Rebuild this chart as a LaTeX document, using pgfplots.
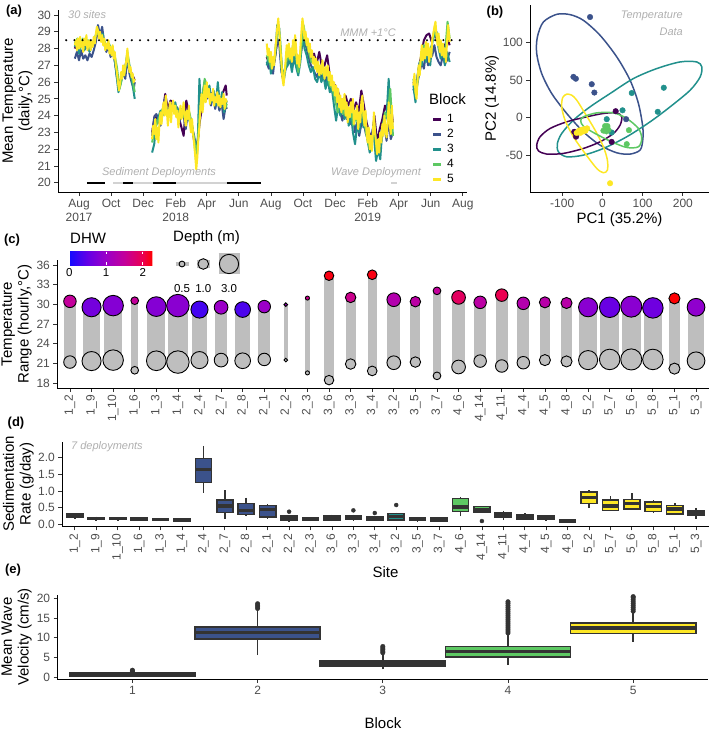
\documentclass[border=0pt]{standalone}
\usepackage{fontspec}
\setmainfont{Liberation Sans}
\usepackage{pgfplots}
\usepackage{pgfplotstable}
\pgfplotsset{compat=1.18}
\usepgfplotslibrary{statistics}

\definecolor{vA}{RGB}{68,1,84}
\definecolor{vB}{RGB}{59,82,139}
\definecolor{vC}{RGB}{33,144,140}
\definecolor{vD}{RGB}{93,200,99}
\definecolor{vE}{RGB}{253,231,37}
\definecolor{tk}{RGB}{77,77,77}
\definecolor{ann}{RGB}{175,175,175}
\definecolor{bxc}{RGB}{51,51,51}
\definecolor{gbar}{RGB}{190,190,190}
\definecolor{dep}{RGB}{210,210,210}

\pgfplotsset{
  gg/.style={scale only axis, anchor=south west, axis lines=left,
    axis line style={-, line width=0.9pt, draw=black},
    tick style={line width=0.8pt, draw=bxc}, major tick length=3.6pt, tick align=outside,
    tick label style={font=\fontsize{12}{14}\selectfont, text=tk},
    /pgf/number format/assume math mode=true,
    enlargelimits=false, minor tick num=0},
  colormap={dhw}{rgb255(0pt)=(20,10,255); rgb255(50pt)=(100,0,230); rgb255(100pt)=(155,0,200);
    rgb255(150pt)=(195,0,155); rgb255(200pt)=(235,0,80); rgb255(226pt)=(255,0,0)}
}
\newcommand{\lab}{\fontsize{15}{16.7}\selectfont}
\newcommand{\an}{\fontsize{11}{12}\selectfont\itshape\color{ann}}
\newcommand{\bxp}[7]{\addplot[boxplot prepared={draw position=#1,lower whisker=#2,lower quartile=#3,median=#4,upper quartile=#5,upper whisker=#6}, draw=bxc, fill=#7, line width=1.6pt] coordinates {};}
\newcommand{\bxq}[8]{\addplot[boxplot prepared={draw position=#1,lower whisker=#2,lower quartile=#3,median=#4,upper quartile=#5,upper whisker=#6}, draw=bxc, fill=#7, line width=1.6pt, mark=*, mark size=2pt, mark options={line width=0.4pt, fill=bxc, draw=bxc}] coordinates {(#1,#8)};}

\begin{document}
% daily mean temperature, x = days since 1 Aug 2017
\pgfplotstableread{
x y
-8 28.2
-6 28.5
-4 27.9
-2 28.6
0 28.0
2 28.7
4 28.1
6 28.4
8 27.8
10 28.6
12 28.2
14 28.8
16 27.9
18 28.3
20 28.5
22 27.9
24 28.4
26 28.1
28 28.7
30 28.3
32 28.9
34 29.3
36 29.1
38 28.6
40 29.0
42 28.4
44 28.8
46 28.2
48 28.6
50 27.9
52 28.3
54 28.0
56 28.5
58 27.7
60 28.1
62 27.6
64 28.2
66 27.4
68 27.8
70 27.0
72 26.6
74 26.0
76 25.5
78 25.9
80 26.6
82 26.2
84 27.0
86 26.4
88 26.9
90 27.3
92 28.0
94 27.2
96 26.6
98 26.9
100 26.3
102 26.5
104 26.0
106 26.2
nan nan
139 22.6
141 23.4
143 22.9
145 23.8
147 22.6
149 23.3
151 22.4
153 23.6
155 24.2
157 23.5
159 24.4
161 24.8
163 24.0
165 25.2
167 24.3
169 23.4
171 24.2
173 24.8
175 23.6
177 24.5
179 24.9
181 24.1
183 24.6
185 23.9
187 24.3
189 23.3
191 24.0
193 24.6
195 23.8
197 24.2
199 24.8
201 23.9
203 23.4
205 24.3
207 23.8
209 24.6
211 23.5
213 23.0
215 23.8
217 22.9
219 22.3
221 21.6
223 20.8
225 21.5
227 22.6
229 23.4
231 24.6
233 25.3
235 24.2
237 25.0
239 25.8
241 24.8
243 26.0
245 25.1
247 25.6
249 24.7
251 25.3
253 24.9
255 25.6
257 24.6
259 25.1
261 24.8
263 25.4
265 24.6
267 25.2
269 24.5
271 25.0
273 24.7
275 25.3
277 24.4
279 25.0
281 24.8
nan nan
357 28.3
359 27.6
361 28.0
363 27.2
365 27.8
367 26.8
369 27.5
371 27.0
373 27.9
375 28.5
377 29.2
379 29.8
381 29.0
383 28.0
385 27.1
387 26.2
389 25.8
391 26.5
393 27.3
395 28.2
397 27.5
399 28.3
401 27.4
403 28.0
405 27.2
407 28.5
409 27.6
411 28.8
413 28.0
415 27.1
417 27.6
419 26.9
421 28.0
423 29.0
425 29.8
427 29.3
429 28.5
431 29.0
433 28.2
435 28.6
437 27.8
439 28.3
441 27.5
443 27.9
445 27.1
447 27.5
449 26.8
451 27.4
453 26.6
455 27.2
457 26.4
459 27.0
461 26.5
463 27.3
465 26.7
467 26.2
469 26.9
471 26.4
473 27.0
475 26.1
477 26.6
479 25.8
481 26.4
483 25.5
485 26.0
487 25.2
489 25.8
491 24.8
493 25.6
495 24.5
497 25.2
499 24.2
501 25.0
503 24.4
505 25.3
507 24.0
509 24.8
511 23.6
513 24.5
515 23.9
517 24.8
519 24.2
521 25.0
523 23.5
525 24.3
527 23.8
529 24.6
531 23.2
533 24.2
535 23.6
537 24.8
539 25.2
541 24.0
543 23.4
545 24.3
547 23.0
549 22.4
551 23.3
553 22.0
555 22.8
557 21.9
559 23.0
561 24.2
563 23.0
565 22.4
567 21.7
569 22.6
571 21.8
573 23.0
575 22.4
577 23.5
579 22.8
581 24.0
583 23.2
585 22.7
587 23.6
589 24.8
591 23.5
593 22.9
595 24.6
597 23.2
nan nan
636 25.8
638 26.5
640 25.4
642 25.0
644 26.2
646 27.0
648 26.4
650 27.5
652 28.2
654 27.3
656 28.0
658 27.4
660 28.4
662 27.6
664 28.3
666 27.2
668 28.0
670 27.5
672 28.6
674 28.9
676 29.3
678 29.6
680 28.8
682 28.2
684 28.9
686 27.8
688 28.5
690 27.6
692 28.3
694 27.5
696 28.0
698 27.2
700 28.4
702 29.4
704 28.8
705 28.4
}\tE
\pgfplotstableread{
x y
-8 27.4
-4 27.8
0 27.3
4 27.9
8 27.4
12 27.6
16 27.3
20 27.7
24 27.5
28 27.9
32 28.4
36 29.4
40 28.8
44 29.3
48 28.3
52 27.8
56 28.2
60 27.5
64 27.8
68 27.3
72 26.3
76 25.6
80 26.1
84 26.6
88 26.2
92 27.5
96 26.5
100 26.0
104 25.6
106 26.0
nan nan
139 22.8
143 23.9
147 24.1
151 23.8
155 23.4
159 24.2
163 25.0
167 24.5
171 24.3
175 24.7
179 24.6
183 24.3
187 24.5
191 23.6
195 24.4
199 24.0
203 23.2
207 24.2
211 23.8
215 23.3
219 22.8
223 22.0
227 22.8
231 24.5
235 25.2
239 26.0
243 25.0
247 25.4
251 24.6
255 25.2
259 24.4
263 25.0
267 24.3
271 24.8
275 23.8
279 24.6
281 24.4
nan nan
357 27.2
361 26.8
365 27.4
369 26.5
373 27.6
377 28.6
381 28.2
385 26.6
389 26.2
393 27.0
397 27.4
401 27.6
405 27.0
409 27.3
413 27.6
417 27.2
421 27.5
425 29.0
429 28.4
433 28.0
437 27.5
441 27.0
445 26.8
449 26.5
453 26.3
457 26.8
461 26.2
465 26.5
469 26.0
473 26.4
477 25.8
481 25.5
485 25.2
489 24.8
493 24.6
497 24.2
501 23.7
505 24.4
509 23.8
513 24.2
517 23.5
521 24.0
525 23.0
529 23.6
533 22.8
537 23.5
541 23.8
545 23.0
549 22.6
553 22.3
557 22.9
561 23.6
565 22.3
569 21.8
573 22.2
577 22.8
581 23.4
585 22.5
589 23.8
593 22.6
597 23.0
nan nan
636 25.6
640 25.2
644 26.0
648 26.6
652 27.2
656 26.8
660 27.8
664 27.0
668 27.4
672 27.6
676 28.2
680 27.5
684 27.2
688 27.0
692 27.6
696 27.1
700 27.3
705 27.8
}\tB
\pgfplotstableread{
x y
-8 28.1
-4 28.5
0 27.7
5 28.4
10 27.9
15 28.3
20 27.8
25 28.2
30 28.5
35 29.2
40 28.6
45 28.9
50 28.0
55 28.3
60 27.7
65 27.9
70 26.8
75 25.4
80 26.0
85 26.8
90 27.0
95 27.0
100 26.2
106 25.0
nan nan
139 21.8
143 22.3
147 23.6
151 23.9
155 24.3
159 24.0
163 24.6
167 24.2
171 24.4
175 24.6
179 24.5
183 24.8
187 24.2
191 24.4
195 24.3
199 24.5
203 23.9
207 24.0
211 23.6
215 23.4
219 22.6
223 21.2
226 22.6
229 26.2
232 24.6
236 25.4
240 26.1
244 25.2
248 25.8
252 24.8
256 25.5
260 24.6
264 26.0
268 24.5
272 25.4
276 24.2
281 24.9
nan nan
357 27.0
361 27.6
365 26.5
369 27.2
373 27.5
377 29.4
381 29.2
385 26.8
389 26.0
393 26.8
397 27.0
401 27.4
405 26.6
409 27.5
413 26.9
417 26.4
421 27.2
425 28.8
429 28.0
433 27.6
437 27.0
441 26.6
445 26.9
449 26.2
453 26.0
457 26.6
461 26.0
465 26.4
469 25.6
473 26.2
477 25.4
481 25.6
485 24.6
489 23.7
493 24.6
497 24.0
501 24.8
505 23.8
509 24.5
513 23.4
517 24.2
521 23.0
525 22.3
529 23.4
533 23.0
537 24.2
541 23.3
545 23.6
549 22.5
553 21.8
557 22.6
561 22.8
565 21.3
569 22.0
573 21.4
577 23.2
581 23.6
585 24.0
589 26.2
593 23.5
597 22.8
nan nan
636 25.8
640 24.8
644 26.4
648 27.2
652 27.0
656 28.0
660 27.2
664 28.0
668 27.0
672 28.4
676 28.8
680 29.0
684 28.0
688 27.4
692 27.8
696 27.0
700 27.8
705 27.2
}\tC
\pgfplotstableread{
x y
-8 28.0
-3 28.4
2 28.2
7 28.5
12 28.0
17 28.4
22 28.1
27 28.3
32 28.6
37 29.0
42 28.7
47 28.4
52 28.2
57 28.0
62 27.8
67 27.5
72 26.5
77 25.8
82 26.5
87 26.7
92 27.6
97 26.7
102 26.4
106 26.1
nan nan
139 23.0
144 24.0
149 23.8
154 23.5
159 24.2
164 25.3
169 24.4
174 24.9
179 24.8
184 24.5
189 24.0
194 23.4
199 22.8
204 24.9
209 24.2
214 23.5
219 22.5
224 21.8
229 23.5
234 24.5
239 25.8
244 25.5
249 25.0
254 25.4
259 24.8
264 25.6
269 24.6
274 25.4
279 25.8
281 25.2
nan nan
357 27.5
362 27.1
367 26.7
372 27.3
377 28.4
382 28.3
387 26.3
392 26.7
397 27.5
402 27.4
407 27.6
412 27.8
417 27.2
422 27.7
427 28.9
432 28.2
437 27.9
442 27.4
447 27.7
452 27.1
457 27.8
462 26.9
467 27.0
472 27.6
477 26.4
482 26.0
487 25.8
492 25.5
497 25.0
502 24.8
507 25.2
512 24.6
517 25.0
522 24.3
527 24.8
532 24.2
537 25.5
542 24.6
547 23.6
552 23.0
557 22.6
562 24.0
567 22.4
572 23.2
577 23.8
582 24.6
587 24.2
592 25.0
597 23.6
nan nan
636 26.0
641 25.6
646 26.8
651 27.6
656 28.5
661 28.8
666 28.9
671 28.4
676 29.0
681 28.5
686 28.3
691 28.0
696 28.2
701 28.6
705 28.2
}\tA
\pgfplotstableread{
x y
-8 28.3
-3 28.6
2 28.0
7 28.6
12 28.2
17 28.5
22 28.0
27 28.4
32 28.8
37 29.0
42 28.5
47 28.6
52 28.1
57 28.3
62 27.9
67 27.7
72 26.9
77 25.6
82 26.3
87 26.6
92 27.8
97 26.8
102 26.1
106 25.4
nan nan
139 22.4
144 23.2
149 23.6
154 24.0
159 24.4
164 24.6
169 24.0
174 24.5
179 24.3
184 24.6
189 23.8
194 24.2
199 24.0
204 23.7
209 24.3
214 23.6
219 22.6
224 21.6
229 24.0
234 25.0
239 26.2
244 25.3
249 25.1
254 25.3
259 24.9
264 25.3
269 24.8
274 25.1
279 24.5
281 24.7
nan nan
357 27.6
362 27.2
367 26.8
372 27.4
377 29.0
382 28.8
387 26.4
392 26.8
397 27.6
402 27.3
407 28.2
412 27.7
417 26.6
422 27.8
427 29.4
432 28.4
437 27.8
442 27.2
447 27.4
452 26.8
457 26.6
462 26.5
467 26.4
472 26.6
477 25.8
482 25.6
487 25.0
492 24.2
497 24.8
502 24.1
507 24.6
512 23.9
517 24.5
522 23.4
527 24.0
532 23.3
537 24.6
542 23.8
547 22.8
552 22.2
557 22.4
562 23.4
567 21.8
572 22.5
577 23.3
582 24.2
587 23.9
592 25.6
597 22.8
nan nan
636 26.2
641 25.2
646 26.6
651 27.4
656 28.2
661 28.0
666 27.8
671 28.2
676 29.2
681 28.6
686 27.9
691 28.2
696 27.6
701 29.6
705 28.6
}\tD
% site temperature range: max, min, circle radius (pt), DHW
\pgfplotstableread{
x hi lo r dhw
0 30.45 21.2 6.7 1.5
1 29.55 21.35 10.0 0.65
2 29.8 21.5 10.7 0.8
3 30.55 19.95 4.3 1.5
4 29.65 21.4 10.3 0.8
5 29.8 21.2 11.7 0.85
6 29.2 21.5 9.0 0.3
7 29.55 21.5 7.3 1.0
8 29.2 21.4 8.3 0.35
9 29.65 21.6 6.7 1.0
10 29.95 21.5 2.3 1.05
11 30.95 19.55 2.5 1.6
12 34.35 18.45 5.2 2.2
13 31.05 20.9 5.7 1.6
14 34.5 19.85 5.3 2.2
15 30.7 21.1 7.3 1.3
16 30.4 21.2 5.7 1.4
17 32.05 19.1 4.3 1.5
18 31.05 20.45 7.3 1.9
19 30.3 21.35 6.7 1.4
20 31.4 20.6 6.7 2.0
21 30.15 21.1 6.7 1.3
22 30.3 21.5 6.0 1.35
23 30.2 21.3 6.0 1.35
24 29.55 21.5 10.0 0.85
25 29.55 21.6 10.7 0.55
26 29.65 21.6 11.0 0.85
27 29.45 21.6 10.7 0.6
28 30.9 20.2 6.0 2.25
29 29.55 21.4 9.3 0.9
}\tS

\begin{tikzpicture}
\path[use as bounding box] (0,0) rectangle (709pt,734pt);

% ---------------- (a)
\begin{axis}[gg, at={(58pt,542pt)}, width=409pt, height=182pt,
  xmin=-40, xmax=738, ymin=19.45, ymax=30.3, ytick={20,...,30},
  xtick={0,61,122,184,243,304,365,426,487,549,608,669,730},
  xticklabels={{Aug\\2017},Oct,Dec,{Feb\\2018},Apr,Jun,Aug,Oct,Dec,{Feb\\2019},Apr,Jun,Aug},
  xticklabel style={align=center},
  unbounded coords=jump,
  legend image code/.code={\draw[line width=2.6pt] (0pt,0pt) -- (8pt,0pt);},
  legend cell align=left,
  legend style={at={(axis cs:671,24.07)}, anchor=north west, draw=none, fill=none,
    inner sep=0pt, row sep=5.1pt, column sep=4.6pt,
    font=\fontsize{12}{12}\selectfont, nodes={inner sep=0pt}}]
\addplot[dep, line width=2.4pt, forget plot] coordinates {(65,20) (281,20)};
\addplot[dep, line width=2.4pt, forget plot] coordinates {(594,20) (605,20)};
\addplot[black, line width=2.4pt, forget plot] coordinates {(15,20) (49,20)};
\addplot[black, line width=2.4pt, forget plot] coordinates {(84,20) (103,20)};
\addplot[black, line width=2.4pt, forget plot] coordinates {(141,20) (184,20)};
\addplot[black, line width=2.4pt, forget plot] coordinates {(281,20) (346,20)};
\addplot[vA, line width=2pt, line join=round] table {\tA};
\addplot[vB, line width=2pt, line join=round] table {\tB};
\addplot[vC, line width=2pt, line join=round] table {\tC};
\addplot[vD, line width=2pt, line join=round] table {\tD};
\addplot[vE, line width=2pt, line join=round] table {\tE};
\addplot[black, line width=2.3pt, line cap=round, dash pattern=on 0pt off 8.2pt, forget plot] coordinates {(-40,28.5) (738,28.5)};
\legend{1,2,3,4,5}
\end{axis}

% ---------------- (b)
\begin{axis}[gg, at={(530pt,542pt)}, width=179pt, height=187pt,
  xmin=-180, xmax=265, ymin=-98.6, ymax=150,
  xtick={-100,0,100,200}, ytick={-50,0,50,100}]
\addplot[vB, line width=1.5pt, smooth cycle] coordinates {(-113.6,137.6) (-146.8,127.4) (-161.7,107.5) (-163.3,85.4) (-150.9,58.8) (-126,32.3) (-88.7,5.8) (-47.3,-18.6) (-5.8,-36.3) (35.7,-46.5) (68.8,-48.2) (93.7,-42.9) (100.3,-29.6) (100.3,-11.9) (89.6,19) (68.8,50) (35.7,81) (-5.8,109.7) (-47.3,129.6) (-80.4,137.2)};
\addplot[vC, line width=1.5pt, smooth cycle] coordinates {(-109.5,-45.1) (-111.9,-34.1) (-101.2,-20.8) (-72.1,-3.1) (-30.7,14.6) (19.1,32.3) (77.1,52.2) (135.2,65.5) (193.2,74.3) (234.7,74.3) (247.1,67.7) (243,54.4) (218.1,36.7) (168.3,14.6) (118.6,-5.3) (60.5,-25.2) (2.5,-40.7) (-47.3,-49.6) (-88.7,-51.8)};
\addplot[vA, line width=1.5pt, smooth cycle] coordinates {(-163.3,-36.3) (-155,-25.2) (-130.2,-14.2) (-88.7,-5.3) (-39,1.3) (2.5,5.8) (35.7,6.6) (48.1,1.3) (43.9,-9.7) (27.4,-20.8) (-5.8,-31.9) (-47.3,-40.7) (-97,-47.3) (-138.5,-48.2) (-159.2,-43.8)};
\addplot[vE, line width=1.5pt, smooth cycle] coordinates {(-88.7,31.4) (-98.7,27) (-101.2,14.6) (-92.9,-3.1) (-72.1,-25.2) (-43.1,-47.3) (-14.1,-67.3) (2.5,-73) (12.4,-69.5) (12.4,-56.2) (2.5,-38.5) (-18.2,-16.4) (-43.1,5.8) (-63.8,23.5) (-76.3,30.1)};
\addplot[vD, line width=1.5pt, smooth cycle] coordinates {(-47.3,1.3) (-14.1,6.6) (27.4,6.6) (60.5,-0.9) (89.6,-14.2) (97.8,-27.4) (89.6,-38.5) (60.5,-39.4) (23.2,-31.9) (-18.2,-20.8) (-47.3,-11.1) (-53.9,-4)};
\addplot[only marks, mark=*, mark size=2.8pt, vA] coordinates {(33,8.8) (-70,-18.6) (-65.5,-25) (23,-32) (-66,-21)};
\addplot[only marks, mark=*, mark size=2.8pt, vB] coordinates {(-30.7,134) (-72,54.4) (-66,52) (-26.5,44.7) (-20,33.6) (59,-1.8)};
\addplot[only marks, mark=*, mark size=2.8pt, vC] coordinates {(152.6,40) (73,33) (50,10) (137.6,8) (10.8,-1.8) (23,-19.5)};
\addplot[only marks, mark=*, mark size=2.8pt, vD] coordinates {(6.6,-11) (12.4,-11) (2.5,-17) (15,-16) (9,-14) (66,-16.4) (60.5,-35) (10,-18)};
\addplot[only marks, mark=*, mark size=2.8pt, vE] coordinates {(-64,-20) (-58,-17) (-52,-16) (-45,-15) (-38,-14) (-55,-20) (-48,-18) (-42,-17) (19,-87)};
\end{axis}

% ---------------- (c)
\begin{axis}[gg, at={(57pt,346pt)}, width=652pt, height=128pt, clip=false,
  xmin=-0.6, xmax=29.6, ymin=17.25, ymax=36.75, ytick={18,21,...,36},
  xtick={0,...,29},
  xticklabels={1\_2,1\_9,1\_10,1\_6,1\_3,1\_4,2\_4,2\_7,2\_8,2\_1,2\_2,2\_3,3\_6,3\_3,3\_4,3\_2,3\_5,3\_7,4\_6,4\_14,4\_11,4\_4,4\_5,4\_8,5\_2,5\_7,5\_6,5\_8,5\_1,5\_3},
  xticklabel style={rotate=90, anchor=east},
  colormap name=dhw, point meta min=0, point meta max=2.26,
  colorbar horizontal,
  colorbar style={at={(0.01887,0.9609)}, anchor=south west, scale only axis,
    width=83pt, height=13.3pt, xtick={0,1,2}, xticklabels={0,1,2}, ytick=\empty,
    xticklabel style={rotate=0, anchor=north, text=black, font=\fontsize{11.5}{12}\selectfont},
    major tick length=2.6pt, tick align=inside, xtick pos=both, xticklabel pos=lower,
    tick style={draw=white, line width=0.8pt}, axis line style={draw=none}, xlabel={}, ylabel={}}]
\addplot[gbar, line width=11.7pt] coordinates {(0,21.2) (0,30.45)};
\addplot[gbar, line width=17.5pt] coordinates {(1,21.35) (1,29.55)};
\addplot[gbar, line width=18.7pt] coordinates {(2,21.5) (2,29.8)};
\addplot[gbar, line width=7.5pt] coordinates {(3,19.95) (3,30.55)};
\addplot[gbar, line width=18pt] coordinates {(4,21.4) (4,29.65)};
\addplot[gbar, line width=20.5pt] coordinates {(5,21.2) (5,29.8)};
\addplot[gbar, line width=15.7pt] coordinates {(6,21.5) (6,29.2)};
\addplot[gbar, line width=12.8pt] coordinates {(7,21.5) (7,29.55)};
\addplot[gbar, line width=14.5pt] coordinates {(8,21.4) (8,29.2)};
\addplot[gbar, line width=11.7pt] coordinates {(9,21.6) (9,29.65)};
\addplot[gbar, line width=4pt] coordinates {(10,21.5) (10,29.95)};
\addplot[gbar, line width=4.4pt] coordinates {(11,19.55) (11,30.95)};
\addplot[gbar, line width=9.1pt] coordinates {(12,18.45) (12,34.35)};
\addplot[gbar, line width=10pt] coordinates {(13,20.9) (13,31.05)};
\addplot[gbar, line width=9.3pt] coordinates {(14,19.85) (14,34.5)};
\addplot[gbar, line width=12.8pt] coordinates {(15,21.1) (15,30.7)};
\addplot[gbar, line width=10pt] coordinates {(16,21.2) (16,30.4)};
\addplot[gbar, line width=7.5pt] coordinates {(17,19.1) (17,32.05)};
\addplot[gbar, line width=12.8pt] coordinates {(18,20.45) (18,31.05)};
\addplot[gbar, line width=11.7pt] coordinates {(19,21.35) (19,30.3)};
\addplot[gbar, line width=11.7pt] coordinates {(20,20.6) (20,31.4)};
\addplot[gbar, line width=11.7pt] coordinates {(21,21.1) (21,30.15)};
\addplot[gbar, line width=10.5pt] coordinates {(22,21.5) (22,30.3)};
\addplot[gbar, line width=10.5pt] coordinates {(23,21.3) (23,30.2)};
\addplot[gbar, line width=17.5pt] coordinates {(24,21.5) (24,29.55)};
\addplot[gbar, line width=18.7pt] coordinates {(25,21.6) (25,29.55)};
\addplot[gbar, line width=19.3pt] coordinates {(26,21.6) (26,29.65)};
\addplot[gbar, line width=18.7pt] coordinates {(27,21.6) (27,29.45)};
\addplot[gbar, line width=10.5pt] coordinates {(28,20.2) (28,30.9)};
\addplot[gbar, line width=16.3pt] coordinates {(29,21.4) (29,29.55)};
\addplot[scatter, only marks, mark=*, point meta=\thisrow{dhw},
  scatter/use mapped color={draw=black, fill=gbar},
  visualization depends on={\thisrow{r}-0.45 \as \rad},
  scatter/@pre marker code/.append style={/tikz/mark size=\rad},
  mark options={line width=0.9pt}]
  table[x=x, y=lo] {\tS};
\addplot[scatter, only marks, mark=*, point meta=\thisrow{dhw},
  scatter/use mapped color={draw=black, fill=mapped color},
  visualization depends on={\thisrow{r}-0.45 \as \rad},
  scatter/@pre marker code/.append style={/tikz/mark size=\rad},
  mark options={line width=0.9pt}]
  table[x=x, y=hi] {\tS};
\end{axis}

% size legend for depth
\begin{axis}[scale only axis, anchor=south west, at={(160pt,460pt)}, width=80pt, height=20pt,
  xmin=160, xmax=240, ymin=-10, ymax=10, clip=false,
  axis line style={draw=none}, ytick=\empty, major tick length=0pt,
  xtick={182,203.3,229}, xticklabels={0.5,1.0,3.0},
  xticklabel style={font=\fontsize{11.5}{12}\selectfont, text=black, yshift=-6.5pt}]
\addplot[gbar, line width=4pt] coordinates {(175.5,0) (188.5,0)};
\addplot[gbar, line width=8pt] coordinates {(196.8,0) (209.8,0)};
\addplot[gbar, line width=21pt] coordinates {(218.5,0) (239.5,0)};
\addplot[only marks, mark=*, mark size=2.9pt, mark options={fill=gbar, draw=black, line width=0.9pt}] coordinates {(182,0)};
\addplot[only marks, mark=*, mark size=5.3pt, mark options={fill=gbar, draw=black, line width=0.9pt}] coordinates {(203.3,0)};
\addplot[only marks, mark=*, mark size=9.6pt, mark options={fill=gbar, draw=black, line width=0.9pt}] coordinates {(229,0)};
\end{axis}

% ---------------- (d)
\begin{axis}[gg, at={(62pt,207.3pt)}, width=647pt, height=84.7pt, clip=false,
  xmin=-0.6, xmax=29.6, ymin=-0.07, ymax=2.47, ytick={0,0.5,...,2},
  yticklabel style={/pgf/number format/.cd, fixed, fixed zerofill, precision=1},
  xtick={0,...,29},
  xticklabels={1\_2,1\_9,1\_10,1\_6,1\_3,1\_4,2\_4,2\_7,2\_8,2\_1,2\_2,2\_3,3\_6,3\_3,3\_4,3\_2,3\_5,3\_7,4\_6,4\_14,4\_11,4\_4,4\_5,4\_8,5\_2,5\_7,5\_6,5\_8,5\_1,5\_3},
  xticklabel style={rotate=90, anchor=east},
  boxplot/draw direction=y,
  boxplot/box extend=0.75, boxplot/whisker extend=0,
  boxplot/every median/.style={line width=3.2pt}]
\bxp{0}{0.18}{0.20}{0.25}{0.31}{0.34}{vA}
\bxp{1}{0.12}{0.14}{0.17}{0.21}{0.23}{vA}
\bxp{2}{0.12}{0.14}{0.17}{0.21}{0.22}{vA}
\bxp{3}{0.11}{0.12}{0.15}{0.19}{0.20}{vA}
\bxp{4}{0.10}{0.12}{0.15}{0.18}{0.19}{vA}
\bxp{5}{0.09}{0.10}{0.13}{0.17}{0.18}{vA}
\bxp{6}{0.95}{1.26}{1.65}{1.98}{2.35}{vB}
\bxp{7}{0.17}{0.36}{0.55}{0.73}{1.03}{vB}
\bxp{8}{0.24}{0.30}{0.42}{0.62}{0.80}{vB}
\bxp{9}{0.17}{0.22}{0.45}{0.57}{0.60}{vB}
\bxq{10}{0.08}{0.12}{0.18}{0.25}{0.28}{vB}{0.38}
\bxp{11}{0.10}{0.12}{0.15}{0.20}{0.22}{vB}
\bxp{12}{0.10}{0.13}{0.19}{0.27}{0.29}{vC}
\bxq{13}{0.12}{0.14}{0.20}{0.27}{0.29}{vC}{0.42}
\bxq{14}{0.11}{0.13}{0.17}{0.24}{0.26}{vC}{0.34}
\bxq{15}{0.11}{0.13}{0.23}{0.32}{0.35}{vC}{0.58}
\bxp{16}{0.10}{0.11}{0.15}{0.20}{0.21}{vC}
\bxp{17}{0.09}{0.10}{0.14}{0.19}{0.20}{vC}
\bxp{18}{0.24}{0.38}{0.52}{0.78}{0.83}{vD}
\bxq{19}{0.35}{0.37}{0.45}{0.53}{0.55}{vD}{0.10}
\bxp{20}{0.13}{0.20}{0.28}{0.35}{0.41}{vD}
\bxp{21}{0.14}{0.16}{0.23}{0.30}{0.34}{vD}
\bxp{22}{0.13}{0.14}{0.19}{0.25}{0.28}{vD}
\bxp{23}{0.05}{0.06}{0.10}{0.14}{0.15}{vD}
\bxp{24}{0.50}{0.62}{0.80}{0.97}{1.03}{vE}
\bxp{25}{0.40}{0.42}{0.55}{0.73}{0.85}{vE}
\bxp{26}{0.44}{0.46}{0.62}{0.74}{0.93}{vE}
\bxp{27}{0.33}{0.38}{0.53}{0.67}{0.72}{vE}
\bxp{28}{0.30}{0.31}{0.46}{0.57}{0.65}{vE}
\bxp{29}{0.17}{0.26}{0.34}{0.42}{0.50}{vE}
\end{axis}

% ---------------- (e)
\begin{axis}[gg, at={(57.3pt,54.7pt)}, width=651pt, height=84.3pt, clip=false,
  xmin=0.4, xmax=5.6, ymin=-0.5, ymax=20.8, ytick={0,5,...,20}, xtick={1,...,5},
  boxplot/draw direction=y,
  boxplot/box extend=1, boxplot/whisker extend=0,
  boxplot/every median/.style={line width=3.4pt}]
\addplot[boxplot prepared={draw position=1,lower whisker=0.1,lower quartile=0.4,median=0.75,upper quartile=1.1,upper whisker=1.35}, draw=bxc, fill=vA, line width=1.7pt, mark=*, mark size=2.3pt, mark options={line width=0.3pt, fill=bxc, draw=bxc}] coordinates {(1,1.4) (1,1.6) (1,1.8)};
\addplot[boxplot prepared={draw position=2,lower whisker=5.6,lower quartile=9.6,median=11.3,upper quartile=12.8,upper whisker=17.3}, draw=bxc, fill=vB, line width=1.7pt, mark=*, mark size=2.3pt, mark options={line width=0.3pt, fill=bxc, draw=bxc}] coordinates {(2,17.4) (2,17.8) (2,18.2) (2,18.6)};
\addplot[boxplot prepared={draw position=3,lower whisker=2.0,lower quartile=2.7,median=3.4,upper quartile=4.1,upper whisker=6.1}, draw=bxc, fill=vC, line width=1.7pt, mark=*, mark size=2.3pt, mark options={line width=0.3pt, fill=bxc, draw=bxc}] coordinates {(3,6.2) (3,6.6) (3,7.0) (3,7.4) (3,7.8)};
\addplot[boxplot prepared={draw position=4,lower whisker=3.1,lower quartile=5.2,median=6.45,upper quartile=7.75,upper whisker=11.1}, draw=bxc, fill=vD, line width=1.7pt, mark=*, mark size=2.3pt, mark options={line width=0.3pt, fill=bxc, draw=bxc}] coordinates {(4,11.2) (4,11.7) (4,12.2) (4,12.7) (4,13.2) (4,13.7) (4,14.2) (4,14.7) (4,15.2) (4,15.7) (4,16.2) (4,16.7) (4,17.2) (4,17.7) (4,18.2) (4,18.7) (4,19.1)};
\addplot[boxplot prepared={draw position=5,lower whisker=9.0,lower quartile=11.1,median=12.45,upper quartile=13.8,upper whisker=16.6}, draw=bxc, fill=vE, line width=1.7pt, mark=*, mark size=2.3pt, mark options={line width=0.3pt, fill=bxc, draw=bxc}] coordinates {(5,16.7) (5,17.2) (5,17.7) (5,18.2) (5,18.7) (5,19.2) (5,19.7) (5,20.2) (5,20.4)};
\end{axis}

% ---------------- texts
\node[font=\bfseries\fontsize{13}{13}\selectfont] at (14pt,723pt) {(a)};
\node[font=\bfseries\fontsize{13}{13}\selectfont] at (495pt,722pt) {(b)};
\node[font=\bfseries\fontsize{13}{13}\selectfont] at (12pt,494pt) {(c)};
\node[font=\bfseries\fontsize{13}{13}\selectfont] at (16pt,311pt) {(d)};
\node[font=\bfseries\fontsize{13}{13}\selectfont] at (13pt,164pt) {(e)};

\node[rotate=90, align=center, font=\lab] at (17.5pt,633pt) {Mean Temperature\\(daily,°C)};
\node[rotate=90, font=\lab] at (492pt,635.5pt) {PC2 (14.8\%)};
\node[font=\lab] at (619.5pt,514pt) {PC1 (35.2\%)};
\node[rotate=90, align=center, font=\lab] at (16.7pt,410pt) {Temperature\\Range (hourly,°C)};
\node[rotate=90, align=center, font=\lab] at (18.3pt,250pt) {Sedimentation\\Rate (g/day)};
\node[font=\lab] at (385.5pt,162.3pt) {Site};
\node[rotate=90, align=center, font=\lab] at (16.7pt,97pt) {Mean Wave\\Velocity (cm/s)};
\node[font=\lab] at (383pt,10.7pt) {Block};

\node[font=\lab, anchor=west, inner sep=0pt] at (429pt,635pt) {Block};
\node[font=\lab, anchor=west, inner sep=0pt] at (70pt,496pt) {DHW};
\node[font=\lab, anchor=west, inner sep=0pt] at (173pt,496pt) {Depth (m)};

\node[font=\an, anchor=west, inner sep=0pt] at (68pt,719pt) {30 sites};
\node[font=\an] at (368pt,701pt) {MMM +1°C};
\node[font=\an] at (159pt,561pt) {Sediment Deployments};
\node[font=\an] at (376pt,561pt) {Wave Deployment};
\node[font=\an, anchor=east, inner sep=0pt] at (683pt,718pt) {Temperature};
\node[font=\an, anchor=east, inner sep=0pt] at (683pt,702pt) {Data};
\node[font=\an, anchor=west, inner sep=0pt] at (71pt,287pt) {7 deployments};
\end{tikzpicture}
\end{document}
